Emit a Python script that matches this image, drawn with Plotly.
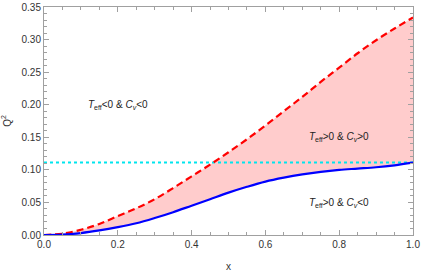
import plotly.graph_objects as go

x_vals = [0.0, 0.05, 0.1, 0.15, 0.2, 0.25, 0.3, 0.35, 0.4, 0.45, 0.5,
          0.55, 0.6, 0.65, 0.7, 0.75, 0.8, 0.85, 0.9, 0.95, 1.0]
upper_red = [0.0, 0.002, 0.008, 0.017, 0.029, 0.041, 0.055, 0.072, 0.090, 0.108, 0.127,
             0.147, 0.168, 0.190, 0.212, 0.235, 0.257, 0.279, 0.299, 0.317, 0.334]
lower_blue = [0.0, 0.0005, 0.003, 0.007, 0.012, 0.018, 0.026, 0.035, 0.045, 0.055, 0.065,
              0.074, 0.082, 0.088, 0.093, 0.097, 0.100, 0.102, 0.104, 0.107, 0.111]
cyan_level = 1 / 9

labels = [
    (0.2, 0.2, "<i>T</i><sub>eff</sub>&lt;0 &amp; <i>C</i><sub><i>v</i></sub>&lt;0"),
    (0.8, 0.150, "<i>T</i><sub>eff</sub>&gt;0 &amp; <i>C</i><sub><i>v</i></sub>&gt;0"),
    (0.8, 0.049, "<i>T</i><sub>eff</sub>&gt;0 &amp; <i>C</i><sub><i>v</i></sub>&lt;0"),
]

FONT = "Arial, Liberation Sans, sans-serif"

fig = go.Figure()
fig.add_trace(go.Scatter(x=x_vals, y=lower_blue, mode="lines", line_shape="spline",
                         line=dict(color="rgba(0,0,0,0)", width=0),
                         showlegend=False, hoverinfo="skip"))
fig.add_trace(go.Scatter(x=x_vals, y=upper_red, mode="lines", line_shape="spline",
                         fill="tonexty", fillcolor="#FFCCCC",
                         line=dict(color="rgba(0,0,0,0)", width=0),
                         showlegend=False, hoverinfo="skip"))
fig.add_trace(go.Scatter(x=[0, 1], y=[cyan_level, cyan_level], mode="lines",
                         line=dict(color="#00E5EE", width=2, dash="dot"),
                         showlegend=False))
fig.add_trace(go.Scatter(x=x_vals, y=upper_red, mode="lines", line_shape="spline",
                         line=dict(color="#FF0000", width=2.2, dash="7px,4px"),
                         showlegend=False))
fig.add_trace(go.Scatter(x=x_vals, y=lower_blue, mode="lines", line_shape="spline",
                         line=dict(color="#0000FF", width=2.2),
                         showlegend=False))

for lx, ly, txt in labels:
    fig.add_annotation(x=lx, y=ly, text=txt, showarrow=False,
                       font=dict(family=FONT, size=10, color="#222"))

axis_common = dict(showline=True, linecolor="#A0A0A0", linewidth=1, mirror="ticks",
                   ticks="inside", ticklen=5, tickcolor="#A0A0A0", showgrid=False,
                   zeroline=False, ticklabeloverflow="allow",
                   tickfont=dict(family=FONT, size=10, color="#333"))

fig.update_xaxes(range=[0, 1], dtick=0.2, tickformat=".1f",
                 minor=dict(dtick=0.05, ticks="inside", ticklen=3, tickcolor="#A0A0A0"),
                 title=dict(text="x", font=dict(family=FONT, size=10, color="#333"),
                            standoff=13),
                 **axis_common)
fig.update_yaxes(range=[0, 0.35], dtick=0.05, tickformat=".2f",
                 minor=dict(dtick=0.01, ticks="inside", ticklen=3, tickcolor="#A0A0A0"),
                 title=dict(text="Q<sup>2</sup>", font=dict(family=FONT, size=10, color="#333"),
                            standoff=8),
                 **axis_common)

fig.update_layout(width=421, height=274, margin=dict(l=44, r=8, t=7, b=39, autoexpand=False),
                  paper_bgcolor="white", plot_bgcolor="white", showlegend=False,
                  font=dict(family=FONT))

fig.write_html("out.html", config={"displayModeBar": False},
               post_script="document.body.style.margin='0';")
